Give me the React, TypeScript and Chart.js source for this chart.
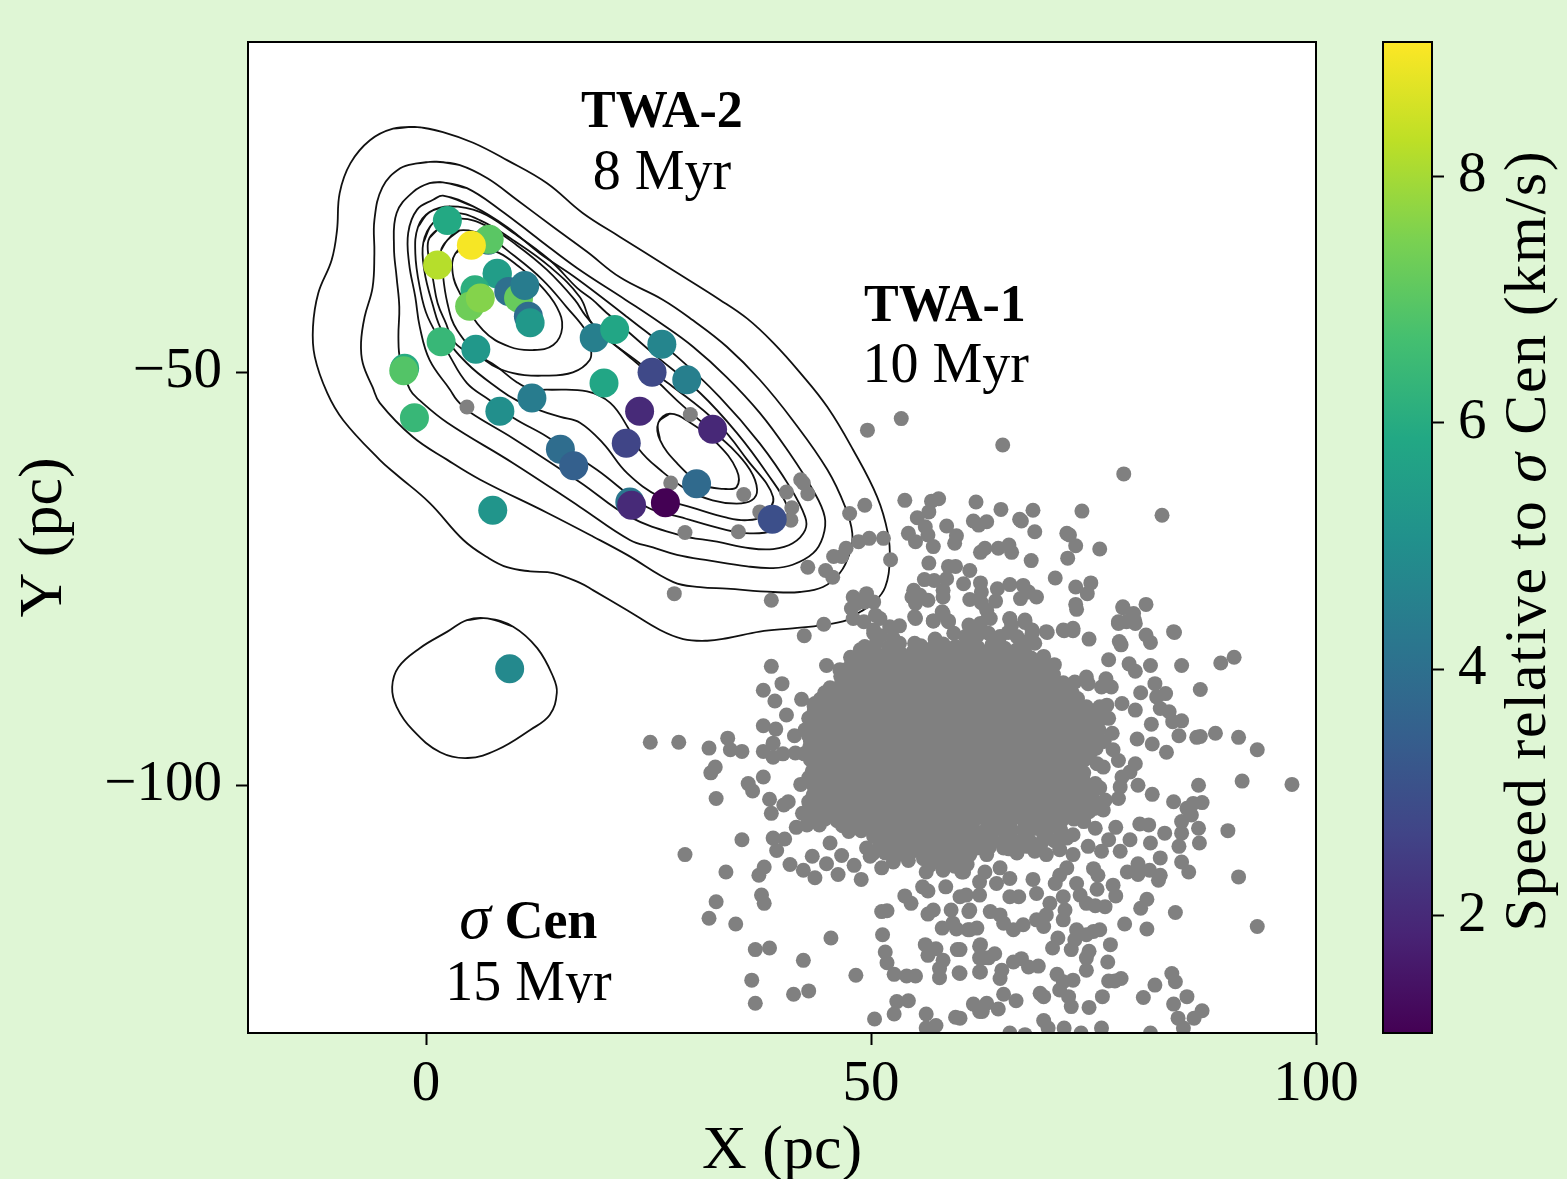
import React, { useEffect, useRef } from "react";
import { Chart, registerables } from "chart.js";

Chart.register(...registerables);

const FONT = '"Liberation Serif"';
const PAGE_BG = "#dff6d5";

const xTicks = [0, 50, 100];
const yTicks = [-50, -100];
const speedTicks = [2, 4, 6, 8];
const speedRange = [1.05, 9.09];
const viridisStops = ["#440154", "#482475", "#414487", "#355f8d", "#2a788e", "#21918c", "#22a884", "#44bf70", "#7ad151", "#bddf26", "#fde725"];

// Members with measured speeds
const tracerX = [7.0, 7.1, 2.4, 5.1, 1.3, 8.0, 8.0, 5.5, 4.9, 6.1, 9.3, 10.4, 11.1, 11.5, 11.7, 1.7, 5.6, -2.4, -2.5, -1.3, 18.9, 21.2, 26.5, 25.4, 29.3, 20.0, 24.0, 32.2, 22.5, 8.3, 11.9, 15.1, 16.6, 30.4, 22.9, 23.1, 26.9, 38.9, 7.5, 9.4];
const tracerY = [-34.0, -33.9, -31.6, -34.6, -37.0, -38.1, -38.0, -40.0, -42.0, -41.0, -40.2, -41.0, -39.5, -43.2, -44.0, -46.3, -47.2, -49.5, -49.8, -55.5, -45.8, -44.8, -46.6, -50.0, -50.9, -51.3, -54.7, -56.9, -58.6, -54.7, -53.1, -59.3, -61.3, -63.5, -65.7, -66.1, -65.8, -67.8, -66.7, -85.9];
const tracerSpeed = [4.0, 7.0, 5.9, 9.0, 8.2, 6.0, 5.5, 6.1, 7.3, 7.6, 4.0, 7.2, 4.4, 3.9, 5.3, 6.4, 5.3, 6.0, 6.9, 6.4, 4.5, 5.8, 4.7, 2.8, 4.5, 5.8, 2.0, 1.95, 2.7, 5.0, 4.4, 3.9, 3.5, 3.8, 4.2, 2.0, 1.05, 3.0, 5.2, 4.8];

// Sparse members, x,y pairs
const fieldNorth = [4.6,-54.2, 29.7,-55.1, 27.5,-63.4, 35.7,-64.8, 40.5,-64.5, 42.1,-63.0, 42.4,-63.4, 42.9,-64.7, 41.1,-66.4, 41.0,-67.9, 37.5,-66.9, 35.1,-69.3, 29.1,-69.4, 27.9,-76.8, 38.8,-77.6, 42.9,-73.6, 44.9,-74.0, 45.7,-74.8, 45.8,-72.3, 46.7,-72.3, 47.2,-71.3, 47.6,-67.1, 49.3,-66.1, 48.6,-70.5, 49.8,-70.1, 51.4,-70.1, 52.2,-72.7, 49.6,-57.0, 53.4,-55.6, 44.7,-80.5, 42.5,-81.9, 48.0,-77.2, 49.5,-76.8, 50.3,-77.8, 47.8,-78.6, 49.3,-77.8, 50.5,-79.4, 48.0,-79.8, 49.2,-80.2, 51.0,-79.8, 48.4,-78.0, 50.3,-81.6, 64.8,-58.8, 78.4,-62.3, 82.7,-67.3, 53.8,-65.5, 57.6,-65.3, 56.8,-65.6, 56.5,-66.9, 61.8,-65.7, 64.6,-66.6, 68.2,-66.7, 73.7,-66.8, 55.2,-67.6, 56.1,-68.7, 56.4,-69.7, 54.2,-69.5, 55.0,-70.5, 57.0,-71.1, 58.5,-68.6, 59.6,-69.8, 59.4,-70.7, 61.5,-68.0, 62.1,-68.5, 63.0,-68.1, 66.7,-67.8, 66.9,-68.0, 68.4,-69.3, 72.0,-69.5, 72.3,-69.7, 73.0,-71.0, 75.7,-71.4, 62.3,-71.8, 62.8,-71.3, 64.3,-71.3, 65.5,-70.9, 65.8,-71.8, 68.0,-72.8, 72.1,-72.5, 56.5,-73.1, 58.7,-73.5, 59.5,-73.5, 61.1,-74.0, 70.7,-74.9, 74.7,-75.5, 73.0,-76.0, 74.3,-76.8, 73.0,-78.1, 73.1,-78.7, 80.9,-78.1, 78.3,-78.5, 79.5,-79.2, 77.8,-80.2, 79.6,-80.0, 78.7,-80.2, 84.0,-81.4, 56.0,-75.1, 57.1,-75.2, 58.5,-75.0, 60.4,-75.6, 62.3,-75.5, 54.8,-76.4, 54.6,-77.2, 55.5,-77.0, 56.4,-77.6, 58.1,-76.4, 58.1,-77.2, 55.0,-78.0, 61.1,-77.5, 62.4,-76.6, 62.4,-77.9, 64.2,-76.2, 64.0,-77.7, 65.6,-75.7, 67.1,-75.8, 66.8,-77.4, 67.7,-76.6, 68.6,-77.2, 55.0,-79.8, 58.0,-79.0, 57.0,-80.1, 58.7,-80.1, 63.0,-78.8, 63.4,-79.8, 62.3,-80.4, 61.0,-80.6, 65.6,-79.8, 67.3,-80.0, 65.8,-80.6, 68.1,-81.2, 69.7,-81.4, 71.6,-81.2, 72.7,-81.0, 50.3,-81.2, 52.1,-80.8, 53.2,-80.7];
const fieldWest = [25.2,-94.8, 28.4,-94.8, 38.8,-85.6, 40.0,-87.7, 37.9,-88.5, 39.2,-89.8, 42.2,-89.6, 40.5,-91.5, 37.9,-92.8, 39.3,-93.2, 41.4,-94.0, 33.9,-94.3, 31.8,-95.5, 34.2,-95.7, 35.5,-95.9, 39.0,-94.9, 37.9,-95.9, 39.0,-96.6, 40.1,-96.2, 41.5,-96.1, 32.5,-97.8, 32.0,-98.5, 37.9,-99.0, 36.2,-99.8, 36.7,-100.7, 42.1,-99.9, 32.6,-101.6, 38.6,-101.7, 40.7,-102.0, 40.2,-102.4, 38.8,-103.4, 45.0,-85.5, 46.5,-86.0, 47.7,-84.5, 48.8,-83.6, 47.8,-87.7, 49.7,-87.3, 48.8,-86.0, 45.8,-88.8, 43.7,-90.1, 44.6,-89.5, 48.0,-89.9, 49.5,-89.9, 54.9,-79.6, 57.0,-80.1, 58.1,-79.2, 58.7,-80.2, 54.9,-82.8, 57.2,-82.3];
const fieldEast = [69.8,-81.5, 71.7,-81.3, 72.7,-81.3, 74.5,-82.3, 78.3,-78.4, 79.4,-79.4, 77.8,-80.4, 79.7,-80.4, 84.1,-81.5, 80.9,-81.8, 81.4,-82.7, 77.9,-82.6, 78.1,-83.0, 76.7,-84.8, 79.0,-85.3, 79.7,-86.2, 81.4,-85.5, 84.9,-85.5, 89.3,-85.2, 90.8,-84.5, 87.0,-88.4, 81.9,-87.7, 80.3,-88.8, 83.1,-88.9, 82.1,-89.3, 78.2,-90.1, 79.7,-90.9, 82.5,-90.7, 83.5,-91.1, 81.5,-92.6, 83.9,-92.3, 84.9,-92.2, 84.6,-94.0, 86.6,-94.2, 87.0,-94.1, 88.7,-93.7, 91.3,-94.2, 93.4,-95.7, 79.9,-94.4, 81.6,-95.0, 83.2,-96.0, 77.1,-93.7, 77.2,-95.7, 77.8,-97.0, 75.4,-97.4, 76.1,-97.8, 73.3,-96.9, 73.9,-98.5, 71.9,-98.8, 79.7,-97.4, 79.1,-98.4, 78.2,-99.0, 78.0,-100.2, 80.0,-100.0, 81.6,-101.1, 86.8,-100.0, 91.7,-99.5, 97.3,-99.9, 84.0,-102.0, 85.5,-102.8, 86.2,-102.2, 87.2,-102.1, 86.0,-103.6, 75.2,-99.8, 77.8,-101.6, 76.3,-101.8, 76.1,-103.0, 72.9,-87.5, 74.2,-86.9, 74.4,-87.7, 75.9,-88.1, 76.4,-87.1, 77.0,-88.1, 75.7,-90.5, 76.5,-90.3, 75.9,-91.9, 76.7,-91.9, 69.4,-84.4, 70.6,-85.4, 67.3,-86.2, 70.5,-86.6, 65.6,-79.9, 67.3,-80.3, 63.2,-79.6, 68.1,-81.6, 68.4,-82.8, 61.1,-80.8, 64.5,-82.0, 66.4,-82.0, 66.4,-83.6, 63.2,-81.6];
const fieldSouthWest = [29.1,-108.4, 35.5,-106.6, 39.0,-106.4, 40.3,-106.5, 39.4,-107.9, 33.7,-110.5, 38.0,-109.9, 37.4,-110.9, 32.6,-114.1, 37.7,-113.3, 38.0,-114.3, 31.8,-116.1, 34.8,-116.8, 40.9,-109.6, 43.4,-108.6, 42.4,-110.3, 43.7,-111.2, 45.0,-109.5, 46.3,-110.8, 46.7,-108.5, 48.1,-109.7, 48.9,-111.4, 51.2,-110.0, 45.4,-107.0, 41.6,-105.1, 42.8,-104.8, 44.2,-104.8, 55.8,-112.3, 56.4,-112.8, 58.4,-112.3, 53.8,-113.4, 54.5,-114.3, 57.0,-115.1, 56.4,-115.6, 51.8,-115.2, 51.2,-115.3, 59.0,-115.1, 51.3,-118.1, 58.0,-117.3, 59.2,-116.7, 59.6,-117.4, 60.0,-113.5, 61.0,-115.3, 61.1,-117.5, 45.5,-118.5, 37.0,-119.9, 38.6,-119.7, 42.4,-121.2, 36.6,-123.6, 48.3,-123.0, 41.3,-125.3, 43.0,-124.9, 37.0,-126.4, 56.1,-119.3, 57.3,-119.8, 56.4,-120.6, 59.7,-119.9, 51.6,-120.2, 51.8,-121.5, 52.6,-122.9, 54.0,-123.1, 55.0,-123.1, 58.1,-121.2, 57.7,-122.2, 57.7,-123.3, 59.9,-122.7, 62.2,-122.6, 62.2,-119.5, 62.2,-120.9, 52.9,-126.2, 54.2,-126.1, 52.6,-127.7, 50.4,-128.3, 56.2,-127.7, 59.5,-128.1, 56.2,-129.4, 57.3,-129.1, 61.5,-126.5, 62.2,-127.4, 56.2,-110.5, 58.1,-110.3, 60.2,-110.5, 52.5,-109.3, 54.2,-109.1, 49.9,-108.6, 61.1,-107.6];
const fieldSouthEast = [90.1,-105.5, 91.3,-111.1, 93.4,-117.1, 86.8,-105.2, 86.9,-107.0, 84.6,-107.4, 84.9,-104.4, 84.9,-105.8, 83.0,-105.8, 81.4,-107.0, 80.2,-104.7, 81.2,-104.8, 77.5,-105.1, 75.2,-105.2, 76.7,-106.6, 79.1,-106.6, 78.0,-108.0, 75.9,-108.0, 74.4,-107.4, 82.5,-108.8, 84.9,-109.3, 85.7,-110.5, 82.3,-111.5, 82.5,-110.9, 81.3,-110.3, 80.0,-109.5, 78.8,-110.5, 80.0,-110.8, 75.0,-110.1, 75.5,-110.9, 75.4,-112.6, 77.2,-112.1, 77.5,-113.4, 81.0,-113.8, 80.3,-114.9, 84.2,-115.4, 78.5,-116.8, 81.0,-117.4, 76.3,-114.7, 75.2,-114.6, 74.2,-114.3, 73.5,-113.3, 73.1,-111.9, 71.6,-113.5, 71.8,-115.1, 71.6,-116.3, 70.1,-114.3, 69.7,-115.7, 70.7,-111.9, 68.2,-111.4, 68.6,-113.1, 66.6,-113.5, 65.6,-113.5, 64.5,-115.7, 67.1,-116.9, 66.0,-117.5, 68.6,-116.3, 69.4,-117.1, 64.9,-116.7, 73.1,-117.5, 72.9,-118.7, 74.2,-118.1, 75.0,-117.7, 75.7,-117.5, 76.9,-119.3, 71.0,-118.5, 70.4,-119.7, 72.5,-119.9, 74.5,-120.1, 74.2,-120.9, 74.2,-122.4, 76.6,-121.4, 76.7,-123.7, 77.4,-123.7, 78.1,-123.4, 76.0,-125.6, 74.5,-126.9, 83.8,-122.8, 84.2,-123.8, 81.9,-124.2, 80.6,-125.7, 85.5,-125.6, 84.0,-126.5, 87.2,-127.3, 86.3,-128.2, 84.5,-128.2, 85.1,-129.4, 81.4,-130.0, 75.9,-129.4, 73.6,-130.0, 71.7,-129.4, 69.4,-128.5, 69.9,-129.4, 65.6,-130.0, 67.3,-130.2, 70.9,-122.9, 72.7,-123.6, 71.6,-123.8, 71.2,-124.8, 72.2,-125.6, 72.5,-126.8, 69.0,-125.2, 69.4,-125.6, 64.9,-125.3, 66.3,-126.1, 64.3,-127.1, 63.0,-126.4, 62.5,-127.4, 68.8,-121.9, 67.7,-122.0, 66.9,-121.0, 66.0,-121.4, 64.5,-123.4, 64.7,-122.4, 63.9,-120.4, 62.6,-120.9, 62.3,-119.3, 62.3,-122.6, 63.2,-120.9, 60.0,-119.9, 60.0,-122.8, 60.0,-128.2, 60.9,-117.5, 61.9,-117.3, 60.7,-113.3, 62.2,-113.3, 61.1,-115.1, 63.4,-115.3, 62.2,-111.7, 64.1,-111.9, 65.6,-111.3, 64.5,-110.0, 62.8,-110.5, 60.4,-110.5, 61.1,-108.4, 63.0,-108.4, 64.9,-107.6, 66.4,-108.2, 68.4,-108.0, 69.7,-108.4, 71.2,-107.8, 72.7,-108.4, 72.0,-110.0, 71.2,-110.9, 72.7,-106.0, 72.0,-106.4, 69.4,-106.0, 67.5,-105.6, 65.6,-106.0, 63.7,-105.6, 61.9,-106.0, 60.4,-106.0, 70.9,-105.0, 68.6,-104.8, 64.5,-104.4, 61.1,-104.8, 73.9,-104.4];

// The crowded middle of the group, x,y pairs, north to south
const coreNorth = [49.3,-83.2, 50.6,-82.7, 52.0,-83.3, 53.2,-82.8, 55.6,-83.1, 56.9,-83.4, 58.1,-82.9, 59.5,-83.2, 60.8,-82.8, 62.0,-83.3, 63.6,-83.0, 65.0,-83.4,
  48.4,-84.6, 49.8,-84.5, 51.2,-84.8, 52.6,-84.4, 54.0,-84.7, 55.4,-84.5, 56.8,-84.8, 58.2,-84.5, 59.6,-84.7, 61.0,-84.4, 62.4,-84.8, 63.8,-84.6, 65.2,-84.5, 66.6,-84.8, 68.0,-84.6,
  47.2,-86.0, 48.5,-86.2, 49.9,-85.9, 51.3,-86.2, 52.7,-85.9, 54.1,-86.1, 55.5,-86.0, 56.9,-86.2, 58.3,-85.9, 59.7,-86.1, 61.1,-86.0, 62.5,-86.2, 63.9,-85.9, 65.3,-86.1, 66.7,-86.0, 68.1,-86.2, 69.5,-85.9,
  46.7,-87.5, 48.1,-87.3, 49.5,-87.6, 50.9,-87.3, 52.3,-87.5, 53.7,-87.4, 55.1,-87.6, 56.5,-87.3, 57.9,-87.5, 59.3,-87.4, 60.7,-87.6, 62.1,-87.3, 63.5,-87.5, 64.9,-87.4, 66.3,-87.6, 67.7,-87.3, 69.1,-87.5, 70.5,-87.4, 71.6,-87.6,
  44.8,-88.8, 46.2,-89.0, 47.6,-88.7, 49.0,-89.0, 50.4,-88.8, 51.8,-88.9, 53.2,-88.7, 54.6,-89.0, 56.0,-88.8, 57.4,-88.9, 58.8,-88.7, 60.2,-89.0, 61.6,-88.8, 63.0,-88.9, 64.4,-88.7, 65.8,-89.0, 67.2,-88.8, 68.6,-88.9, 70.0,-88.7, 71.4,-89.0, 72.6,-88.8,
  43.6,-90.4, 45.0,-90.2, 46.4,-90.5, 47.8,-90.2, 49.2,-90.4, 50.6,-90.3, 52.0,-90.5, 53.4,-90.2, 54.8,-90.4, 56.2,-90.3, 57.6,-90.5, 59.0,-90.2, 60.4,-90.4, 61.8,-90.3, 63.2,-90.5, 64.6,-90.2, 66.0,-90.4, 67.4,-90.3, 68.8,-90.5, 70.2,-90.2, 71.6,-90.4, 73.0,-90.3, 74.2,-90.5,
  43.0,-91.9, 44.3,-91.7, 45.7,-92.0, 47.1,-91.7, 48.5,-91.9, 49.9,-91.8, 51.3,-92.0, 52.7,-91.7, 54.1,-91.9, 55.5,-91.8, 56.9,-92.0, 58.3,-91.7, 59.7,-91.9, 61.1,-91.8, 62.5,-92.0, 63.9,-91.7, 65.3,-91.9, 66.7,-91.8, 68.1,-92.0, 69.5,-91.7, 70.9,-91.9, 72.3,-91.8, 73.7,-92.0, 75.0,-91.7];
const coreMiddle = [42.6,-93.3, 44.0,-93.1, 45.4,-93.4, 46.8,-93.1, 48.2,-93.3, 49.6,-93.2, 51.0,-93.4, 52.4,-93.1, 53.8,-93.3, 55.2,-93.2, 56.6,-93.4, 58.0,-93.1, 59.4,-93.3, 60.8,-93.2, 62.2,-93.4, 63.6,-93.1, 65.0,-93.3, 66.4,-93.2, 67.8,-93.4, 69.2,-93.1, 70.6,-93.3, 72.0,-93.2, 73.4,-93.4, 74.8,-93.1, 75.6,-93.3,
  43.2,-94.7, 44.6,-94.5, 46.0,-94.8, 47.4,-94.5, 48.8,-94.7, 50.2,-94.6, 51.6,-94.8, 53.0,-94.5, 54.4,-94.7, 55.8,-94.6, 57.2,-94.8, 58.6,-94.5, 60.0,-94.7, 61.4,-94.6, 62.8,-94.8, 64.2,-94.5, 65.6,-94.7, 67.0,-94.6, 68.4,-94.8, 69.8,-94.5, 71.2,-94.7, 72.6,-94.6, 74.0,-94.8, 75.4,-94.5, 76.2,-94.7,
  42.5,-96.2, 43.9,-96.0, 45.3,-96.3, 46.7,-96.0, 48.1,-96.2, 49.5,-96.1, 50.9,-96.3, 52.3,-96.0, 53.7,-96.2, 55.1,-96.1, 56.5,-96.3, 57.9,-96.0, 59.3,-96.2, 60.7,-96.1, 62.1,-96.3, 63.5,-96.0, 64.9,-96.2, 66.3,-96.1, 67.7,-96.3, 69.1,-96.0, 70.5,-96.2, 71.9,-96.1, 73.3,-96.3, 74.7,-96.0,
  43.6,-97.6, 45.0,-97.4, 46.4,-97.7, 47.8,-97.4, 49.2,-97.6, 50.6,-97.5, 52.0,-97.7, 53.4,-97.4, 54.8,-97.6, 56.2,-97.5, 57.6,-97.7, 59.0,-97.4, 60.4,-97.6, 61.8,-97.5, 63.2,-97.7, 64.6,-97.4, 66.0,-97.6, 67.4,-97.5, 68.8,-97.7, 70.2,-97.4, 71.6,-97.6, 72.8,-97.5,
  43.0,-99.1, 44.4,-98.9, 45.8,-99.2, 47.2,-98.9, 48.6,-99.1, 50.0,-99.0, 51.4,-99.2, 52.8,-98.9, 54.2,-99.1, 55.6,-99.0, 57.0,-99.2, 58.4,-98.9, 59.8,-99.1, 61.2,-99.0, 62.6,-99.2, 64.0,-98.9, 65.4,-99.1, 66.8,-99.0, 68.2,-99.2, 69.6,-98.9, 71.0,-99.1, 72.4,-99.0, 73.8,-99.2,
  43.7,-100.5, 45.1,-100.3, 46.5,-100.6, 47.9,-100.3, 49.3,-100.5, 50.7,-100.4, 52.1,-100.6, 53.5,-100.3, 54.9,-100.5, 56.3,-100.4, 57.7,-100.6, 59.1,-100.3, 60.5,-100.5, 61.9,-100.4, 63.3,-100.6, 64.7,-100.3, 66.1,-100.5, 67.5,-100.4, 68.9,-100.6, 70.3,-100.3, 71.7,-100.5, 73.1,-100.4, 74.5,-100.6, 75.7,-100.3];
const coreSouth = [43.0,-102.0, 44.4,-101.8, 45.8,-102.1, 47.2,-101.8, 48.6,-102.0, 50.0,-101.9, 51.4,-102.1, 52.8,-101.8, 54.2,-102.0, 55.6,-101.9, 57.0,-102.1, 58.4,-101.8, 59.8,-102.0, 61.2,-101.9, 62.6,-102.1, 64.0,-101.8, 65.4,-102.0, 66.8,-101.9, 68.2,-102.1, 69.6,-101.8, 71.0,-102.0, 72.4,-101.9, 73.8,-102.1, 75.0,-101.8,
  42.3,-103.4, 43.7,-103.2, 45.1,-103.5, 46.5,-103.2, 47.9,-103.4, 49.3,-103.3, 50.7,-103.5, 52.1,-103.2, 53.5,-103.4, 54.9,-103.3, 56.3,-103.5, 57.7,-103.2, 59.1,-103.4, 60.5,-103.3, 61.9,-103.5, 63.3,-103.2, 64.7,-103.4, 66.1,-103.3, 67.5,-103.5, 68.9,-103.2, 70.3,-103.4, 71.7,-103.3, 73.1,-103.5, 74.5,-103.2,
  46.8,-104.9, 48.2,-104.7, 49.6,-105.0, 51.0,-104.7, 52.4,-104.9, 53.8,-104.8, 55.2,-105.0, 56.6,-104.7, 58.0,-104.9, 59.4,-104.8,
  50.3,-106.2, 51.7,-106.0, 53.1,-106.3, 54.5,-106.0, 55.9,-106.2, 57.3,-106.1, 58.7,-106.3, 60.1,-106.0,
  49.5,-107.6, 51.0,-107.4, 52.4,-107.7, 53.8,-107.4, 55.2,-107.6, 56.6,-107.5, 58.0,-107.7, 59.4,-107.4,
  55.9,-108.9, 57.3,-108.7, 58.7,-109.0, 60.1,-108.8];
const coreBetweenNorth = [51.1,-81.9, 52.5,-82.2, 59.3,-81.6, 60.6,-82.0, 62.0,-81.8, 65.4,-81.5, 67.5,-82.6,
  49.1,-83.9, 50.5,-84.0, 51.9,-83.8, 53.3,-84.0, 54.7,-83.9, 56.1,-84.0, 57.5,-83.8, 58.9,-84.0, 60.3,-83.9, 61.7,-84.0, 63.1,-83.8, 64.5,-84.0, 65.9,-83.9, 67.3,-84.0,
  47.8,-85.3, 49.2,-85.2, 50.6,-85.4, 52.0,-85.2, 53.4,-85.3, 54.8,-85.4, 56.2,-85.2, 57.6,-85.3, 59.0,-85.4, 60.4,-85.2, 61.8,-85.3, 63.2,-85.4, 64.6,-85.2, 66.0,-85.3, 67.4,-85.4, 68.8,-85.2,
  46.6,-86.8, 48.0,-86.7, 49.4,-86.9, 50.8,-86.7, 52.2,-86.8, 53.6,-86.9, 55.0,-86.7, 56.4,-86.8, 57.8,-86.9, 59.2,-86.7, 60.6,-86.8, 62.0,-86.9, 63.4,-86.7, 64.8,-86.8, 66.2,-86.9, 67.6,-86.7, 69.0,-86.8, 70.4,-86.9,
  45.4,-88.2, 46.8,-88.1, 48.2,-88.3, 49.6,-88.1, 51.0,-88.2, 52.4,-88.3, 53.8,-88.1, 55.2,-88.2, 56.6,-88.3, 58.0,-88.1, 59.4,-88.2, 60.8,-88.3, 62.2,-88.1, 63.6,-88.2, 65.0,-88.3, 66.4,-88.1, 67.8,-88.2, 69.2,-88.3, 70.6,-88.1, 71.9,-88.2,
  44.3,-89.6, 45.7,-89.5, 47.1,-89.7, 48.5,-89.5, 49.9,-89.6, 51.3,-89.7, 52.7,-89.5, 54.1,-89.6, 55.5,-89.7, 56.9,-89.5, 58.3,-89.6, 59.7,-89.7, 61.1,-89.5, 62.5,-89.6, 63.9,-89.7, 65.3,-89.5, 66.7,-89.6, 68.1,-89.7, 69.5,-89.5, 70.9,-89.6, 72.3,-89.7, 73.2,-89.5,
  43.6,-91.1, 45.0,-91.0, 46.4,-91.2, 47.8,-91.0, 49.2,-91.1, 50.6,-91.2, 52.0,-91.0, 53.4,-91.1, 54.8,-91.2, 56.2,-91.0, 57.6,-91.1, 59.0,-91.2, 60.4,-91.0, 61.8,-91.1, 63.2,-91.2, 64.6,-91.0, 66.0,-91.1, 67.4,-91.2, 68.8,-91.0, 70.2,-91.1, 71.6,-91.2, 73.0,-91.0, 74.3,-91.1,
  43.3,-92.6, 44.7,-92.5, 46.1,-92.7, 47.5,-92.5, 48.9,-92.6, 50.3,-92.7, 51.7,-92.5, 53.1,-92.6, 54.5,-92.7, 55.9,-92.5, 57.3,-92.6, 58.7,-92.7, 60.1,-92.5, 61.5,-92.6, 62.9,-92.7, 64.3,-92.5, 65.7,-92.6, 67.1,-92.7, 68.5,-92.5, 69.9,-92.6, 71.3,-92.7, 72.7,-92.5, 74.1,-92.6, 75.2,-92.7];
const coreBetweenMiddle = [43.0,-94.0, 44.4,-93.9, 45.8,-94.1, 47.2,-93.9, 48.6,-94.0, 50.0,-94.1, 51.4,-93.9, 52.8,-94.0, 54.2,-94.1, 55.6,-93.9, 57.0,-94.0, 58.4,-94.1, 59.8,-93.9, 61.2,-94.0, 62.6,-94.1, 64.0,-93.9, 65.4,-94.0, 66.8,-94.1, 68.2,-93.9, 69.6,-94.0, 71.0,-94.1, 72.4,-93.9, 73.8,-94.0, 75.2,-94.1,
  43.1,-95.4, 44.5,-95.3, 45.9,-95.5, 47.3,-95.3, 48.7,-95.4, 50.1,-95.5, 51.5,-95.3, 52.9,-95.4, 54.3,-95.5, 55.7,-95.3, 57.1,-95.4, 58.5,-95.5, 59.9,-95.3, 61.3,-95.4, 62.7,-95.5, 64.1,-95.3, 65.5,-95.4, 66.9,-95.5, 68.3,-95.3, 69.7,-95.4, 71.1,-95.5, 72.5,-95.3, 73.9,-95.4, 75.3,-95.5,
  43.2,-96.9, 44.6,-96.8, 46.0,-97.0, 47.4,-96.8, 48.8,-96.9, 50.2,-97.0, 51.6,-96.8, 53.0,-96.9, 54.4,-97.0, 55.8,-96.8, 57.2,-96.9, 58.6,-97.0, 60.0,-96.8, 61.4,-96.9, 62.8,-97.0, 64.2,-96.8, 65.6,-96.9, 67.0,-97.0, 68.4,-96.8, 69.8,-96.9, 71.2,-97.0, 72.6,-96.8, 74.0,-96.9,
  43.4,-98.3, 44.8,-98.2, 46.2,-98.4, 47.6,-98.2, 49.0,-98.3, 50.4,-98.4, 51.8,-98.2, 53.2,-98.3, 54.6,-98.4, 56.0,-98.2, 57.4,-98.3, 58.8,-98.4, 60.2,-98.2, 61.6,-98.3, 63.0,-98.4, 64.4,-98.2, 65.8,-98.3, 67.2,-98.4, 68.6,-98.2, 70.0,-98.3, 71.4,-98.4, 72.8,-98.2,
  43.4,-99.8, 44.8,-99.7, 46.2,-99.9, 47.6,-99.7, 49.0,-99.8, 50.4,-99.9, 51.8,-99.7, 53.2,-99.8, 54.6,-99.9, 56.0,-99.7, 57.4,-99.8, 58.8,-99.9, 60.2,-99.7, 61.6,-99.8, 63.0,-99.9, 64.4,-99.7, 65.8,-99.8, 67.2,-99.9, 68.6,-99.7, 70.0,-99.8, 71.4,-99.9, 72.8,-99.7, 73.9,-99.8,
  43.5,-101.2, 44.9,-101.1, 46.3,-101.3, 47.7,-101.1, 49.1,-101.2, 50.5,-101.3, 51.9,-101.1, 53.3,-101.2, 54.7,-101.3, 56.1,-101.1, 57.5,-101.2, 58.9,-101.3, 60.3,-101.1, 61.7,-101.2, 63.1,-101.3, 64.5,-101.1, 65.9,-101.2, 67.3,-101.3, 68.7,-101.1, 70.1,-101.2, 71.5,-101.3, 72.9,-101.1, 74.3,-101.2];
const coreBetweenSouth = [43.1,-102.7, 44.5,-102.6, 45.9,-102.8, 47.3,-102.6, 48.7,-102.7, 50.1,-102.8, 51.5,-102.6, 52.9,-102.7, 54.3,-102.8, 55.7,-102.6, 57.1,-102.7, 58.5,-102.8, 59.9,-102.6, 61.3,-102.7, 62.7,-102.8, 64.1,-102.6, 65.5,-102.7, 66.9,-102.8, 68.3,-102.6, 69.7,-102.7, 71.1,-102.8, 72.5,-102.6, 73.9,-102.7, 75.1,-102.8,
  43.4,-104.2, 44.8,-104.1, 46.2,-104.3, 47.6,-104.1, 49.0,-104.2, 50.4,-104.3, 51.8,-104.1, 53.2,-104.2, 54.6,-104.3, 56.0,-104.1, 57.4,-104.2, 58.8,-104.3, 60.2,-104.1, 61.6,-104.2, 63.0,-104.3, 64.4,-104.1, 65.8,-104.2, 67.2,-104.3, 68.6,-104.1, 70.0,-104.2, 71.4,-104.3, 72.8,-104.1,
  47.5,-105.6, 48.9,-105.5, 50.3,-105.7, 51.7,-105.5, 53.1,-105.6, 54.5,-105.7, 55.9,-105.5, 57.3,-105.6, 58.7,-105.7, 60.1,-105.5, 61.5,-105.3, 62.9,-105.4, 64.3,-105.2, 65.7,-105.3, 67.1,-105.4, 68.5,-105.2, 69.9,-105.3, 71.3,-105.4,
  51.0,-106.9, 52.4,-106.8, 53.8,-107.0, 55.2,-106.8, 56.6,-106.9, 58.0,-107.0, 59.4,-106.8, 60.8,-106.9, 62.2,-106.7, 63.6,-106.8, 65.0,-106.6, 66.4,-106.8, 67.8,-106.7, 69.2,-106.9, 70.6,-106.7,
  50.2,-108.3, 51.6,-108.2, 53.0,-108.4, 54.4,-108.2, 55.8,-108.3, 57.2,-108.4, 58.6,-108.2, 60.0,-108.3, 61.9,-107.6, 63.3,-107.5, 65.5,-107.7, 67.5,-107.4, 69.0,-107.6,
  56.6,-109.7, 58.0,-109.6, 59.4,-109.8, 60.8,-109.6];

// Density contours, x,y pairs, each closed ring
const contourA = [-1.0,-20.3, 1.9,-20.9, 5.3,-22.2, 9.1,-24.3, 13.6,-27.1, 17.6,-30.7, 21.8,-33.6, 27.4,-37.4, 33.0,-41.2, 36.1,-43.5, 39.0,-46.4, 42.0,-50.0, 45.1,-54.2, 48.0,-59.4, 50.7,-65.1, 51.9,-69.5, 52.1,-72.7, 51.6,-76.0, 50.4,-77.8, 48.8,-79.0, 47.3,-80.0, 44.6,-80.6, 41.2,-81.0, 37.5,-81.4, 33.8,-82.2, 31.6,-82.5, 28.9,-82.3, 26.3,-81.2, 22.6,-78.8, 18.8,-76.4, 17.3,-75.5, 14.3,-74.3, 11.7,-74.1, 9.1,-73.6, 6.9,-72.4, 4.2,-70.3, 0.4,-65.8, -3.3,-62.4, -5.2,-60.6, -9.3,-55.8, -11.1,-52.5, -12.5,-48.1, -12.7,-44.5, -12.1,-40.4, -10.6,-36.4, -10.0,-32.8, -9.7,-28.3, -8.5,-24.7, -6.3,-21.9, -3.7,-20.5, -1.0,-20.3];
const contourB = [1.2,-24.5, 3.8,-24.9, 6.9,-26.5, 10.2,-29.1, 14.3,-32.4, 18.1,-35.4, 21.8,-38.5, 26.6,-41.2, 30.0,-43.7, 33.8,-46.9, 37.5,-50.9, 41.2,-55.8, 45.1,-61.8, 47.1,-66.3, 47.9,-69.5, 47.6,-71.9, 46.5,-74.3, 44.6,-76.0, 42.0,-76.6, 39.0,-76.6, 33.8,-76.2, 30.8,-76.0, 27.8,-75.4, 22.6,-72.1, 18.8,-69.9, 13.6,-67.0, 6.1,-63.0, 2.4,-60.6, -1.5,-57.8, -5.2,-53.7, -6.0,-51.8, -7.1,-48.9, -7.3,-46.4, -6.9,-43.3, -6.0,-39.7, -5.8,-35.6, -5.8,-31.6, -4.9,-27.6, -2.9,-25.3, -1.0,-24.7, 1.2,-24.5];
const contourC = [1.9,-27.0, 4.6,-27.7, 8.3,-30.3, 12.8,-34.0, 17.0,-37.4, 22.4,-41.2, 26.3,-44.0, 30.0,-46.9, 33.8,-50.6, 37.5,-54.9, 40.6,-59.4, 43.5,-64.3, 44.8,-67.5, 44.6,-69.9, 43.5,-71.9, 41.2,-73.3, 39.0,-73.7, 36.1,-73.5, 31.9,-72.8, 28.2,-72.1, 25.5,-71.2, 22.9,-70.3, 17.3,-66.3, 9.8,-61.0, 2.4,-56.1, -0.7,-53.4, -1.8,-52.1, -2.9,-48.5, -3.1,-45.7, -3.0,-42.1, -3.3,-38.5, -3.6,-34.8, -3.3,-30.7, -1.5,-28.2, 0.4,-27.1, 1.9,-27.0];
const contourD = [1.9,-28.6, 5.3,-29.9, 9.1,-32.4, 12.8,-35.6, 16.5,-38.3, 20.1,-41.2, 22.6,-43.3, 28.2,-48.1, 33.0,-53.0, 37.5,-58.6, 40.9,-63.9, 42.6,-67.5, 42.6,-69.1, 41.2,-70.7, 39.0,-71.4, 36.4,-71.3, 32.7,-70.5, 28.5,-69.7, 22.9,-67.5, 17.3,-63.3, 9.8,-58.0, 4.9,-54.8, 3.5,-53.4, 2.7,-52.1, 0.4,-48.5, -0.7,-44.5, -1.2,-40.9, -1.9,-36.8, -2.0,-33.1, -1.0,-30.3, 0.8,-29.1, 1.9,-28.6];
const contourE = [0.4,-30.6, 2.7,-29.9, 6.1,-30.6, 9.8,-33.1, 13.9,-36.4, 17.0,-39.8, 18.7,-41.2, 20.1,-42.6, 25.5,-47.7, 30.8,-52.5, 34.9,-57.3, 38.3,-62.2, 40.6,-66.3, 40.2,-68.1, 39.0,-69.2, 36.4,-69.5, 33.8,-69.1, 28.5,-67.5, 24.8,-66.3, 19.2,-61.8, 13.6,-57.8, 9.8,-55.5, 7.2,-53.4, 4.6,-51.3, 2.5,-47.7, 0.2,-43.3, -0.7,-39.7, -1.2,-35.6, -0.9,-32.4, 0.4,-30.6];
const contourF = [0.8,-31.9, 3.0,-30.7, 6.1,-31.6, 9.8,-34.0, 13.9,-37.2, 17.3,-40.9, 18.8,-44.3, 24.0,-48.9, 27.8,-51.8, 32.7,-56.1, 36.1,-60.6, 39.0,-65.1, 37.9,-67.3, 36.1,-67.9, 33.8,-67.6, 30.0,-66.4, 26.3,-65.1, 22.6,-62.2, 19.9,-58.6, 17.3,-56.1, 15.1,-55.4, 12.8,-54.6, 10.2,-53.4, 8.3,-52.1, 4.6,-48.9, 1.9,-45.2, 0.7,-41.6, -0.2,-37.6, -0.3,-34.3, 0.8,-31.9];
const contourG = [1.6,-32.5, 3.8,-31.4, 6.9,-32.3, 10.2,-34.6, 13.6,-37.6, 16.7,-41.2, 17.9,-43.1, 19.9,-45.5, 22.6,-47.9, 25.5,-50.6, 28.5,-53.7, 31.6,-56.6, 34.2,-59.0, 36.4,-61.8, 37.2,-64.2, 36.6,-65.5, 34.9,-65.9, 32.2,-65.5, 29.3,-64.2, 26.3,-61.8, 24.0,-59.4, 22.7,-56.7, 20.7,-53.7, 18.1,-52.3, 13.6,-52.1, 11.9,-52.1, 10.2,-51.2, 7.4,-48.9, 3.5,-46.7, 2.1,-43.7, 1.3,-41.6, 0.8,-38.8, 0.2,-35.2, 0.4,-33.7, 1.6,-32.5];
const contourH = [2.4,-34.0, 3.8,-32.8, 6.9,-33.6, 9.8,-35.8, 13.1,-38.8, 15.8,-42.1, 18.1,-45.2, 18.5,-46.9, 18.4,-48.5, 16.5,-50.0, 13.4,-50.4, 9.8,-50.1, 6.6,-48.5, 3.5,-44.9, 2.4,-41.6, 1.8,-37.2, 1.7,-35.2, 2.4,-34.0];
const contourI = [5.3,-34.3, 8.3,-35.6, 10.2,-37.0, 12.8,-39.4, 14.7,-42.1, 15.3,-44.6, 14.3,-46.7, 12.0,-47.3, 9.4,-46.9, 6.4,-44.9, 3.8,-40.4, 3.0,-38.0, 3.3,-35.6, 5.3,-34.3];
const contourJ = [26.1,-56.1, 27.4,-55.0, 29.7,-56.1, 32.7,-58.6, 34.9,-61.8, 34.9,-63.9, 33.4,-64.1, 31.1,-63.6, 28.2,-61.0, 26.3,-58.2, 26.1,-56.1];
const contourK = [6.9,-79.8, 9.8,-80.8, 12.5,-83.4, 14.3,-86.9, 14.7,-88.8, 13.9,-91.5, 11.7,-93.3, 8.0,-95.7, 4.7,-96.7, 1.6,-96.0, -1.5,-93.3, -3.3,-90.5, -3.8,-88.1, -3.1,-85.7, -0.7,-83.4, 2.4,-81.4, 4.6,-80.0, 6.9,-79.8];

const toPoints = (flat: number[]) => {
  const out: { x: number; y: number }[] = [];
  for (let i = 0; i + 1 < flat.length; i += 2) out.push({ x: flat[i], y: flat[i + 1] });
  return out;
};

// A ring overlaps itself by one segment at each end so the join stays smooth.
const toRing = (flat: number[]) => {
  const pts = toPoints(flat);
  return [pts[pts.length - 2], ...pts, pts[1]];
};

const hexToRgb = (h: string) => [1, 3, 5].map((i) => parseInt(h.slice(i, i + 2), 16));
const viridis = (speed: number) => {
  const t = Math.min(1, Math.max(0, (speed - speedRange[0]) / (speedRange[1] - speedRange[0]))) * (viridisStops.length - 1);
  const i = Math.min(viridisStops.length - 2, Math.floor(t));
  const a = hexToRgb(viridisStops[i]);
  const b = hexToRgb(viridisStops[i + 1]);
  const f = t - i;
  return `rgb(${a.map((v, k) => Math.round(v + (b[k] - v) * f)).join(",")})`;
};

type Run = { text: string; style: string };
const drawRuns = (ctx: CanvasRenderingContext2D, runs: Run[], cx: number, y: number) => {
  let width = 0;
  for (const r of runs) {
    ctx.font = r.style;
    width += ctx.measureText(r.text).width;
  }
  let x = cx - width / 2;
  ctx.textAlign = "left";
  ctx.textBaseline = "alphabetic";
  for (const r of runs) {
    ctx.font = r.style;
    ctx.fillText(r.text, x, y);
    x += ctx.measureText(r.text).width;
  }
};

const BOLD = `bold 52px ${FONT}`;
const BOLD_CEN = `bold 54px ${FONT}`;
const REG = `56px ${FONT}`;
const ITAL = `italic 64px ${FONT}`;

const labelPlugin = {
  id: "groupLabels",
  beforeDraw(chart: any) {
    const { ctx, chartArea: a } = chart;
    ctx.save();
    ctx.fillStyle = "#fff";
    ctx.fillRect(a.left, a.top, a.right - a.left, a.bottom - a.top);
    ctx.restore();
  },
  afterDraw(chart: any) {
    const { ctx, chartArea: a, scales } = chart;
    ctx.save();
    ctx.strokeStyle = "#000";
    ctx.lineWidth = 2;
    ctx.strokeRect(a.left, a.top, a.right - a.left, a.bottom - a.top);
    ctx.fillStyle = "#000";
    const at = (x: number, y: number): [number, number] => [scales.x.getPixelForValue(x), scales.y.getPixelForValue(y)];
    let p = at(26.5, -20.3);
    drawRuns(ctx, [{ text: "TWA-2", style: BOLD }], p[0], p[1]);
    p = at(26.5, -27.8);
    drawRuns(ctx, [{ text: "8 Myr", style: REG }], p[0], p[1]);
    p = at(58.3, -43.8);
    drawRuns(ctx, [{ text: "TWA-1", style: BOLD }], p[0], p[1]);
    p = at(58.4, -51.2);
    drawRuns(ctx, [{ text: "10 Myr", style: REG }], p[0], p[1]);
    p = at(11.5, -118.5);
    drawRuns(ctx, [{ text: "σ", style: ITAL }, { text: " Cen", style: BOLD_CEN }], p[0], p[1]);
    p = at(11.5, -126);
    ctx.save();
    ctx.beginPath();
    ctx.rect(a.left, a.top, a.right - a.left, p[1] + 3 - a.top);
    ctx.clip();
    drawRuns(ctx, [{ text: "15 Myr", style: REG }], p[0], p[1]);
    ctx.restore();
    ctx.restore();
  },
};

const colorbarPlugin = {
  id: "colorbarFrame",
  afterDraw(chart: any) {
    const { ctx, chartArea: a } = chart;
    ctx.save();
    ctx.strokeStyle = "#000";
    ctx.lineWidth = 2;
    ctx.strokeRect(a.left, a.top, a.right - a.left, a.bottom - a.top);
    ctx.fillStyle = "#000";
    ctx.translate(a.right + 113, (a.top + a.bottom) / 2 + 3);
    ctx.rotate(-Math.PI / 2);
    (ctx as any).letterSpacing = "1.7px";
    drawRuns(ctx, [
      { text: "Speed relative to ", style: `60px ${FONT}` },
      { text: "σ", style: `italic 60px ${FONT}` },
      { text: " Cen (km/s)", style: `60px ${FONT}` },
    ], 0, 0);
    ctx.restore();
  },
};

const fmt = (v: number | string) => {
  const n = Number(v);
  return n < 0 ? `\u2212${Math.abs(n)}` : `${n}`;
};

const noOverflow = (s: any) => {
  s.paddingTop = 0;
  s.paddingBottom = 0;
  s.paddingLeft = 0;
  s.paddingRight = 0;
};

export default function App() {
  const mainRef = useRef<HTMLCanvasElement>(null);
  const barRef = useRef<HTMLCanvasElement>(null);

  useEffect(() => {
    const contours = [contourA, contourB, contourC, contourD, contourE, contourF, contourG, contourH, contourI, contourJ, contourK];
    const gray = [...fieldNorth, ...fieldWest, ...fieldEast, ...fieldSouthWest, ...fieldSouthEast, ...coreNorth, ...coreMiddle, ...coreSouth, ...coreBetweenNorth, ...coreBetweenMiddle, ...coreBetweenSouth];
    const main = new Chart(mainRef.current!, {
      type: "scatter",
      data: {
        datasets: [
          {
            label: "Members with speeds",
            data: tracerX.map((x, i) => ({ x, y: tracerY[i] })),
            pointRadius: 14.5,
            pointHoverRadius: 14.5,
            pointBorderWidth: 0,
            pointBackgroundColor: tracerSpeed.map(viridis),
          },
          {
            label: "Group members",
            data: toPoints(gray),
            pointRadius: 7.5,
            pointBorderWidth: 0,
            pointBackgroundColor: "#808080",
          },
          ...contours.map((c, i) => ({
            label: `Density ${i + 1}`,
            data: toRing(c),
            showLine: true,
            tension: 0.4,
            borderColor: "#111",
            borderWidth: 1.8,
            pointRadius: 0,
            fill: false,
          })),
        ] as any,
      },
      options: {
        animation: false,
        responsive: false,
        layout: { padding: { left: 0, top: 42, right: 251, bottom: 0 } },
        plugins: { legend: { display: false }, tooltip: { enabled: false } },
        scales: {
          x: {
            type: "linear",
            min: -20,
            max: 100,
            afterBuildTicks: (s: any) => { s.ticks = xTicks.map((value) => ({ value })); },
            afterFit: (s: any) => { s.height = 146; noOverflow(s); },
            grid: { drawOnChartArea: false, drawTicks: true, tickLength: 12, tickWidth: 2, tickColor: "#000" },
            border: { display: false },
            ticks: { autoSkip: false, maxRotation: 0, color: "#000", padding: 6, font: { family: FONT, size: 57 }, callback: fmt },
            title: { display: true, text: "X (pc)", color: "#000", font: { family: FONT, size: 62 }, padding: { top: 18, bottom: -10 } },
          },
          y: {
            type: "linear",
            min: -130,
            max: -10,
            afterBuildTicks: (s: any) => { s.ticks = yTicks.map((value) => ({ value })); },
            afterFit: (s: any) => { s.width = 248; noOverflow(s); },
            grid: { drawOnChartArea: false, drawTicks: true, tickLength: 12, tickWidth: 2, tickColor: "#000" },
            border: { display: false },
            ticks: { autoSkip: false, color: "#000", padding: 14, font: { family: FONT, size: 57 }, callback: fmt },
            title: { display: true, text: "Y (pc)", color: "#000", font: { family: FONT, size: 62 }, padding: { top: 8, bottom: 0 } },
          },
        },
      } as any,
      plugins: [labelPlugin],
    });

    const bar = new Chart(barRef.current!, {
      type: "bar",
      data: {
        labels: ["Speed"],
        datasets: [
          {
            label: "Speed relative to σ Cen (km/s)",
            data: [[speedRange[0], speedRange[1]]],
            barPercentage: 1,
            categoryPercentage: 1,
            borderWidth: 0,
            backgroundColor: (ctx: any) => {
              const { chart } = ctx;
              const a = chart.chartArea;
              if (!a) return "#888";
              const g = chart.ctx.createLinearGradient(0, a.bottom, 0, a.top);
              viridisStops.forEach((c, i) => g.addColorStop(i / (viridisStops.length - 1), c));
              return g;
            },
          },
        ],
      },
      options: {
        animation: false,
        responsive: false,
        layout: { padding: { left: 1383, top: 42, right: 0, bottom: 146 } },
        plugins: { legend: { display: false }, tooltip: { enabled: false } },
        scales: {
          x: { display: false },
          y: {
            position: "right",
            min: speedRange[0],
            max: speedRange[1],
            afterBuildTicks: (s: any) => { s.ticks = speedTicks.map((value) => ({ value })); },
            afterFit: (s: any) => { s.width = 135; noOverflow(s); },
            grid: { drawOnChartArea: false, drawTicks: true, tickLength: 12, tickWidth: 2, tickColor: "#000" },
            border: { display: false },
            ticks: { autoSkip: false, color: "#000", padding: 14, font: { family: FONT, size: 57 } },
          },
        },
      } as any,
      plugins: [colorbarPlugin],
    });

    return () => {
      main.destroy();
      bar.destroy();
    };
  }, []);

  const layer: React.CSSProperties = { position: "absolute", left: 0, top: 0 };
  return (
    <div style={{ position: "fixed", left: 0, top: 0, width: 1567, height: 1179, background: PAGE_BG, overflow: "hidden" }}>
      <canvas ref={mainRef} width={1567} height={1179} style={layer} />
      <canvas ref={barRef} width={1567} height={1179} style={layer} />
    </div>
  );
}
